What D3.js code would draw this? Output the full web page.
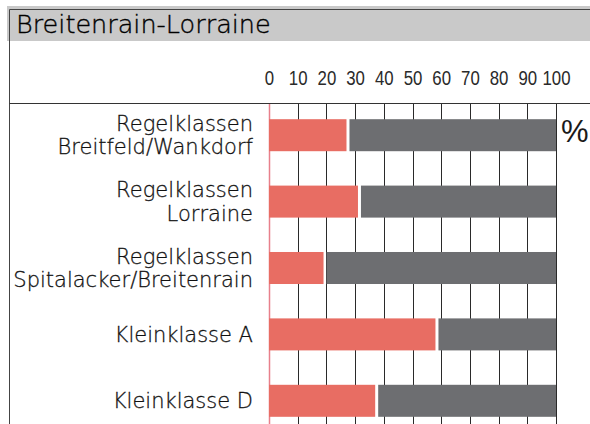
<!DOCTYPE html>
<html>
<head>
<meta charset="utf-8">
<script src="https://cdn.jsdelivr.net/npm/d3@7"></script>
<style>
  html, body { margin: 0; padding: 0; background: #fff; }
  svg { display: block; }
</style>
</head>
<body>
<svg id="chart" width="590" height="424"></svg>
<script>
const title = "Breitenrain-Lorraine";
const categories = [
  ["Regelklassen", "Breitfeld/Wankdorf"],
  ["Regelklassen", "Lorraine"],
  ["Regelklassen", "Spitalacker/Breitenrain"],
  ["Kleinklasse A"],
  ["Kleinklasse D"]
];
const redValues = [27, 31, 19, 58, 37];
const greyValues = [73, 69, 81, 42, 63];
const tickValues = [0, 10, 20, 30, 40, 50, 60, 70, 80, 90, 100];
const unitLabel = "%";

const W = 590, H = 424;
const svg = d3.select("#chart");
const labelFont = "'DejaVu Sans', sans-serif";
const tickFont = "'Liberation Sans', 'Arial', sans-serif";

// Title band
svg.append("rect").attr("x", 7).attr("y", 6).attr("width", W - 7).attr("height", 35).attr("fill", "#c9c9c9");
svg.append("line").attr("x1", 9.5).attr("x2", W).attr("y1", 9.5).attr("y2", 9.5).attr("stroke", "#444").attr("stroke-width", 1);
svg.append("line").attr("x1", 9.5).attr("x2", 9.5).attr("y1", 9.5).attr("y2", H).attr("stroke", "#444").attr("stroke-width", 1);
svg.append("text").attr("x", 16).attr("y", 33).attr("font-family", labelFont).attr("font-size", 25.5)
  .attr("font-weight", 300).attr("fill", "#000").attr("stroke", "#000").attr("stroke-width", 0.35).text(title);

const x = d3.scaleLinear().domain([0, 100]).range([269, 556]);
const y = d3.scaleBand().domain(d3.range(categories.length)).range([102, 434]).paddingInner(0.518).paddingOuter(0.259);

// Axis baseline
svg.append("line").attr("x1", 9.5).attr("x2", W).attr("y1", 103.5).attr("y2", 103.5).attr("stroke", "#333").attr("stroke-width", 1);

// Tick labels via d3 axis
const axis = d3.axisTop(x).tickValues(tickValues).tickSize(0).tickPadding(0);
const ag = svg.append("g").attr("transform", "translate(0,85)").call(axis);
ag.select(".domain").remove();
ag.selectAll("text").attr("font-family", tickFont).attr("font-size", 21).attr("fill", "#2a2a2a")
  .attr("dy", 0).attr("transform", "scale(0.8,1)");

// Grid lines
svg.append("g").selectAll("line").data(tickValues).join("line")
  .attr("x1", d => Math.round(x(d)) + 0.5).attr("x2", d => Math.round(x(d)) + 0.5)
  .attr("y1", 104).attr("y2", H)
  .attr("stroke", d => d === 0 ? "#e8808c" : "#2a2a2a")
  .attr("stroke-width", d => d === 0 ? 1.5 : 1);

// Bars
const gap = 3;
const bars = svg.append("g");
bars.selectAll("rect.red").data(redValues).join("rect").attr("class", "red")
  .attr("x", x(0)).attr("y", (d, i) => y(i))
  .attr("width", d => x(d) - x(0)).attr("height", y.bandwidth())
  .attr("fill", "#e86d63");
bars.selectAll("rect.grey").data(greyValues).join("rect").attr("class", "grey")
  .attr("x", (d, i) => x(redValues[i]) + gap).attr("y", (d, i) => y(i))
  .attr("width", (d, i) => x(redValues[i] + d) - x(redValues[i]) - gap).attr("height", y.bandwidth())
  .attr("fill", "#6d6e71");

// Category labels
const lg = svg.append("g");
categories.forEach((lines, i) => {
  const c = y(i) + y.bandwidth() / 2;
  const lh = 23.3;
  const start = c + 7.5 - (lines.length - 1) * lh / 2;
  const t = lg.append("text").attr("text-anchor", "end").attr("font-family", labelFont)
    .attr("font-size", 21).attr("font-weight", 300).attr("fill", "#111")
    .attr("stroke", "#111").attr("stroke-width", 0.3);
  lines.forEach((s, j) => {
    t.append("tspan").attr("x", 253).attr("y", start + j * lh).text(s);
  });
});

// Unit
svg.append("text").attr("x", 561).attr("y", 142).attr("font-family", tickFont).attr("font-size", 31)
  .attr("fill", "#1a1a1a").text(unitLabel);
</script>
</body>
</html>
